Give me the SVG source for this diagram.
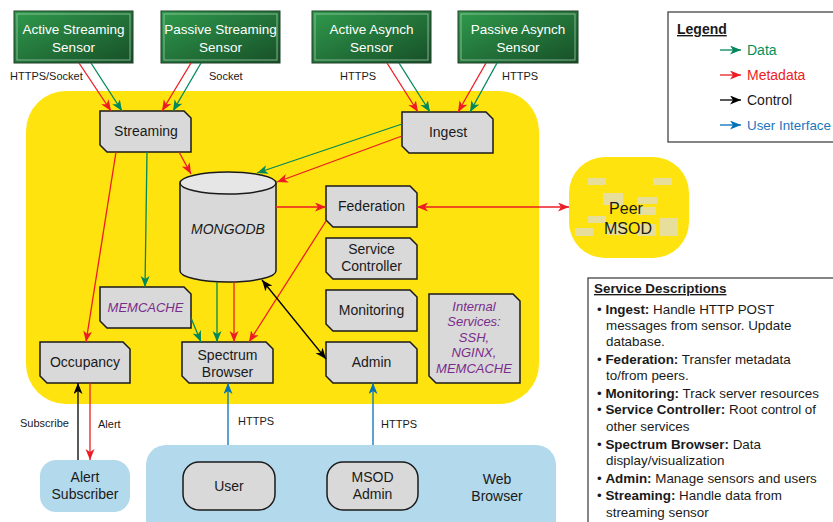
<svg xmlns="http://www.w3.org/2000/svg" width="833" height="522" viewBox="0 0 833 522">
<style>
text{font-family:"Liberation Sans",Arial,sans-serif;fill:#1a1a1a}
.node{fill:#d9d9d9;stroke:#1a1a1a;stroke-width:1.5}
.nt{font-size:14px;text-anchor:middle}
.sens{fill:url(#gg);stroke:#1e3f26;stroke-width:1}
.sin{fill:none;stroke:#9cc9a6;stroke-width:1;opacity:.8}
.st{font-size:13.5px;fill:#fff;text-anchor:middle}
.lbl{font-size:11px}
.pur{fill:#7b2c8b;font-style:italic}
.r{stroke:#ed1c24;stroke-width:1.3;fill:none;marker-end:url(#mr)}
.g{stroke:#00875a;stroke-width:1.3;fill:none;marker-end:url(#mg)}
.k{stroke:#000;stroke-width:1.3;fill:none;marker-end:url(#mk)}
.b{stroke:#0072bc;stroke-width:1.3;fill:none;marker-end:url(#mb)}
.desc{font-size:13.4px}
.desc tspan.bd{font-weight:bold}
.faded{fill:#e8de9c}
</style>
<defs>
<linearGradient id="gg" x1="0" y1="0" x2="1" y2="1">
<stop offset="0" stop-color="#2f9a4c"/>
<stop offset="1" stop-color="#174f28"/>
</linearGradient>
<marker id="mr" markerUnits="userSpaceOnUse" markerWidth="12" markerHeight="10" refX="11" refY="4.5" orient="auto-start-reverse"><path d="M0,0 L11,4.5 L0,9 L3,4.5 Z" fill="#ed1c24"/></marker>
<marker id="mg" markerUnits="userSpaceOnUse" markerWidth="12" markerHeight="10" refX="11" refY="4.5" orient="auto-start-reverse"><path d="M0,0 L11,4.5 L0,9 L3,4.5 Z" fill="#00875a"/></marker>
<marker id="mk" markerUnits="userSpaceOnUse" markerWidth="12" markerHeight="10" refX="11" refY="4.5" orient="auto-start-reverse"><path d="M0,0 L11,4.5 L0,9 L3,4.5 Z" fill="#000"/></marker>
<marker id="mb" markerUnits="userSpaceOnUse" markerWidth="12" markerHeight="10" refX="11" refY="4.5" orient="auto-start-reverse"><path d="M0,0 L11,4.5 L0,9 L3,4.5 Z" fill="#0072bc"/></marker>
</defs>
<rect width="833" height="522" fill="#fff"/>

<!-- main yellow region -->
<rect id="server" x="26" y="91" width="513" height="313" rx="40" fill="#ffe30f"/>

<!-- web browser region -->
<g id="webbrowser">
<rect x="146" y="445" width="410" height="95" rx="20" fill="#b2d9ec"/>
<text x="497" y="484" class="nt">Web</text>
<text x="497" y="501" class="nt">Browser</text>
</g>

<!-- sensors -->
<g id="active-streaming-sensor">
<rect x="14" y="11" width="119" height="52" class="sens"/>
<rect x="17" y="14" width="113" height="46" class="sin"/>
<text x="73.5" y="34" class="st">Active Streaming</text>
<text x="73.5" y="52" class="st">Sensor</text>
</g>
<g id="passive-streaming-sensor">
<rect x="161" y="11" width="119" height="52" class="sens"/>
<rect x="164" y="14" width="113" height="46" class="sin"/>
<text x="220.5" y="34" class="st">Passive Streaming</text>
<text x="220.5" y="52" class="st">Sensor</text>
</g>
<g id="active-asynch-sensor">
<rect x="312" y="11" width="119" height="52" class="sens"/>
<rect x="315" y="14" width="113" height="46" class="sin"/>
<text x="371.5" y="34" class="st">Active Asynch</text>
<text x="371.5" y="52" class="st">Sensor</text>
</g>
<g id="passive-asynch-sensor">
<rect x="458" y="11" width="120" height="52" class="sens"/>
<rect x="461" y="14" width="114" height="46" class="sin"/>
<text x="518" y="34" class="st">Passive Asynch</text>
<text x="518" y="52" class="st">Sensor</text>
</g>

<!-- connection labels -->
<text x="10" y="80" class="lbl">HTTPS/Socket</text>
<text x="209" y="80" class="lbl">Socket</text>
<text x="340" y="80" class="lbl">HTTPS</text>
<text x="502" y="80" class="lbl">HTTPS</text>
<text x="20" y="427" class="lbl">Subscribe</text>
<text x="98" y="428" class="lbl">Alert</text>
<text x="238" y="425" class="lbl">HTTPS</text>
<text x="381" y="428" class="lbl">HTTPS</text>

<!-- nodes -->
<g id="streaming"><path class="node" d="M100,111 H184 L191,118 V152 H107 L100,145 Z"/><text x="146" y="136" class="nt">Streaming</text></g>
<g id="ingest"><path class="node" d="M402,112 H486 L493,119 V153 H409 L402,146 Z"/><text x="448" y="137" class="nt">Ingest</text></g>
<g id="mongodb">
<path class="node" d="M180,183 V271 A48,11 0 0 0 276,271 V183"/>
<ellipse cx="228" cy="183" rx="48" ry="11" fill="#e6e6e6" stroke="#1a1a1a" stroke-width="1.5"/>
<text x="228" y="234" class="nt" style="font-style:italic">MONGODB</text>
</g>
<g id="memcache"><path class="node" d="M100,287 H184 L191,294 V328 H107 L100,321 Z"/><text x="145.5" y="312" class="nt pur" style="font-size:13px">MEMCACHE</text></g>
<g id="occupancy"><path class="node" d="M40,342 H123 L130,349 V383 H47 L40,376 Z"/><text x="85" y="367" class="nt">Occupancy</text></g>
<g id="spectrum-browser"><path class="node" d="M182,342 H266 L273,349 V383 H189 L182,376 Z"/><text x="227.5" y="360" class="nt">Spectrum</text><text x="227.5" y="377" class="nt">Browser</text></g>
<g id="federation"><path class="node" d="M326,186 H410 L417,193 V227 H333 L326,220 Z"/><text x="371.5" y="211" class="nt">Federation</text></g>
<g id="service-controller"><path class="node" d="M326,238 H410 L417,245 V279 H333 L326,272 Z"/><text x="371.5" y="254" class="nt">Service</text><text x="371.5" y="271" class="nt">Controller</text></g>
<g id="monitoring"><path class="node" d="M326,290 H410 L417,297 V331 H333 L326,324 Z"/><text x="371.5" y="315" class="nt">Monitoring</text></g>
<g id="admin"><path class="node" d="M326,342 H410 L417,349 V383 H333 L326,376 Z"/><text x="371.5" y="367" class="nt">Admin</text></g>
<g id="internal-services"><path class="node" d="M429,294 H513 L520,301 V383 H436 L429,376 Z"/>
<text x="474" y="311" class="nt pur" style="font-size:13px">Internal</text>
<text x="474" y="326" class="nt pur" style="font-size:13px">Services:</text>
<text x="474" y="342" class="nt pur" style="font-size:13px">SSH,</text>
<text x="474" y="357" class="nt pur" style="font-size:13px">NGINX,</text>
<text x="474" y="373" class="nt pur" style="font-size:13px">MEMCACHE</text>
</g>

<!-- peer MSOD -->
<g id="peer-msod">
<rect x="569" y="157" width="120" height="101" rx="36" fill="#ffe30f"/>
<rect class="faded" x="588" y="178" width="18" height="7"/>
<rect class="faded" x="653" y="178" width="19" height="7"/>
<rect class="faded" x="603" y="193" width="20" height="12"/>
<rect class="faded" x="637" y="197" width="20" height="7"/>
<rect class="faded" x="588" y="216" width="18" height="7"/>
<rect class="faded" x="637" y="207" width="19" height="8"/>
<rect class="faded" x="660" y="218" width="18" height="18"/>
<rect class="faded" x="575" y="228" width="18" height="8"/>
<rect class="faded" x="607" y="224" width="18" height="11"/>
<rect class="faded" x="637" y="224" width="19" height="12"/>
<text x="626" y="214" class="nt" style="font-size:16px">Peer</text>
<text x="628" y="234" class="nt" style="font-size:16px">MSOD</text>
</g>

<!-- users -->
<g id="alert-subscriber"><rect x="40" y="460" width="90" height="52" rx="16" fill="#b2d9ec"/><text x="85" y="482" class="nt">Alert</text><text x="85" y="499" class="nt">Subscriber</text></g>
<g id="user"><rect x="183" y="462" width="92" height="48" rx="16" class="node"/><text x="229" y="491" class="nt">User</text></g>
<g id="msod-admin"><rect x="327" y="462" width="91" height="48" rx="16" class="node"/><text x="372.5" y="482" class="nt">MSOD</text><text x="372.5" y="499" class="nt">Admin</text></g>

<!-- connectors -->
<g id="connectors">
<line class="r" x1="79" y1="63" x2="111" y2="111"/>
<line class="g" x1="91" y1="63" x2="122" y2="111"/>
<line class="r" x1="191" y1="63" x2="162" y2="111"/>
<line class="g" x1="201" y1="63" x2="173" y2="111"/>
<line class="r" x1="387" y1="63" x2="418" y2="112"/>
<line class="g" x1="399" y1="63" x2="430" y2="112"/>
<line class="r" x1="486" y1="63" x2="458" y2="112"/>
<line class="g" x1="497" y1="63" x2="470" y2="112"/>
<line class="r" x1="116" y1="152" x2="86" y2="342"/>
<line class="g" x1="147" y1="152" x2="145" y2="287"/>
<line class="r" x1="179" y1="152" x2="191" y2="174"/>
<line class="g" x1="402" y1="124" x2="257" y2="173"/>
<line class="r" x1="402" y1="136" x2="277" y2="182"/>
<line class="r" x1="276" y1="207" x2="326" y2="207"/>
<line class="r" x1="417" y1="207" x2="569" y2="207" style="marker-start:url(#mr)"/>
<line class="r" x1="326" y1="221" x2="249" y2="342"/>
<line class="g" x1="191" y1="318" x2="201" y2="342"/>
<line class="g" x1="217" y1="282" x2="217" y2="342"/>
<line class="r" x1="234" y1="282" x2="234" y2="342"/>
<line class="k" x1="262" y1="280" x2="326" y2="359" style="marker-start:url(#mk)"/>
<line class="k" x1="78" y1="460" x2="78" y2="383"/>
<line class="r" x1="90" y1="383" x2="90" y2="460"/>
<line class="b" x1="228" y1="445" x2="228" y2="383"/>
<line class="b" x1="373" y1="445" x2="373" y2="383"/>
</g>

<!-- legend -->
<g id="legend">
<rect x="668" y="12" width="180" height="130" fill="#fff" stroke="#444" stroke-width="1.3"/>
<text x="677" y="34" style="font-size:14px;font-weight:bold;text-decoration:underline">Legend</text>
<line class="g" x1="720" y1="50" x2="741" y2="50"/>
<text x="747" y="55" style="font-size:14px;fill:#00915a">Data</text>
<line class="r" x1="720" y1="75" x2="741" y2="75"/>
<text x="747" y="80" style="font-size:14px;fill:#ed1c24">Metadata</text>
<line class="k" x1="720" y1="100" x2="741" y2="100"/>
<text x="747" y="105" style="font-size:14px">Control</text>
<line class="b" x1="720" y1="125" x2="741" y2="125"/>
<text x="747" y="130" style="font-size:13.5px;fill:#1a75bc" textLength="84" lengthAdjust="spacingAndGlyphs">User Interface</text>
</g>

<!-- service descriptions -->
<g id="service-descriptions">
<rect x="588" y="278" width="260" height="260" fill="#fff" stroke="#444" stroke-width="1.3"/>
<text x="594" y="293" class="desc" style="font-weight:bold;text-decoration:underline">Service Descriptions</text>
<text x="597" y="314" class="desc">• <tspan class="bd">Ingest:</tspan> Handle HTTP POST</text>
<text x="606" y="330" class="desc">messages from sensor. Update</text>
<text x="606" y="346" class="desc">database.</text>
<text x="597" y="364" class="desc">• <tspan class="bd">Federation:</tspan> Transfer metadata</text>
<text x="606" y="380" class="desc">to/from peers.</text>
<text x="597" y="398" class="desc">• <tspan class="bd">Monitoring:</tspan> Track server resources</text>
<text x="597" y="414" class="desc">• <tspan class="bd">Service Controller:</tspan> Root control of</text>
<text x="606" y="431" class="desc">other services</text>
<text x="597" y="449" class="desc">• <tspan class="bd">Spectrum Browser:</tspan> Data</text>
<text x="606" y="465" class="desc">display/visualization</text>
<text x="597" y="483" class="desc">• <tspan class="bd">Admin:</tspan> Manage sensors and users</text>
<text x="597" y="500" class="desc">• <tspan class="bd">Streaming:</tspan> Handle data from</text>
<text x="606" y="517" class="desc">streaming sensor</text>
</g>
</svg>
